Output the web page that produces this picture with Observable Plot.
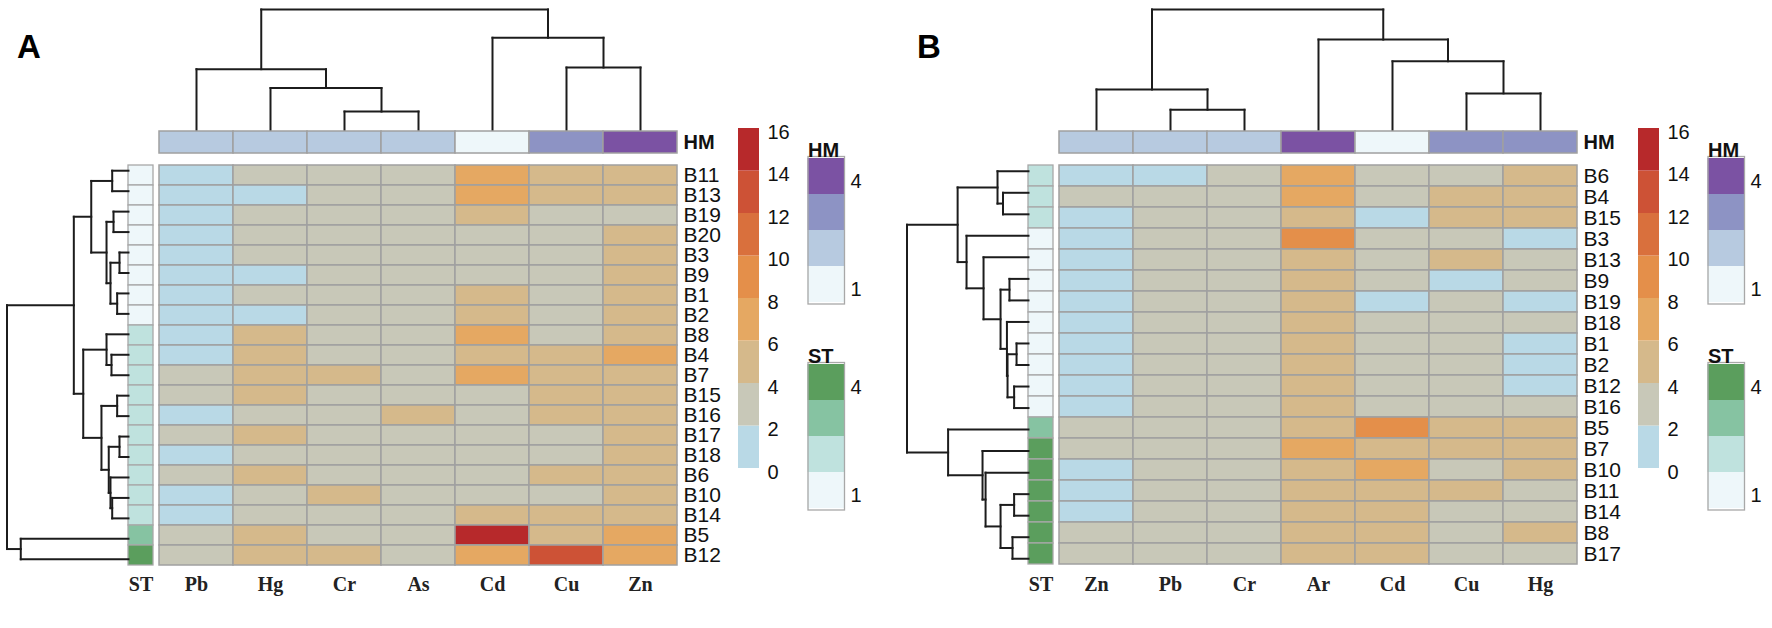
<!DOCTYPE html>
<html><head><meta charset="utf-8">
<script src="https://cdn.jsdelivr.net/npm/d3@7"></script>
<script src="https://cdn.jsdelivr.net/npm/@observablehq/plot@0.6"></script>
<style>
body{margin:0;background:#fff;}
#root{position:relative;width:1772px;height:628px;overflow:hidden;background:#fff;font-family:"Liberation Sans",Arial,sans-serif;}
#root svg{position:absolute;}
.plabel{position:absolute;font-weight:bold;font-size:33px;line-height:33px;color:#000;font-family:"Liberation Sans",Arial,sans-serif;}
</style></head><body><div id="root"></div>
<script>
// ---------------- DATA ----------------
const colsA = ["Pb","Hg","Cr","As","Cd","Cu","Zn"];
const rowsA = ["B11","B13","B19","B20","B3","B9","B1","B2","B8","B4","B7","B15","B16","B17","B18","B6","B10","B14","B5","B12"];
const hmA = [2,2,2,2,1,3,4];
const stA = [1,1,1,1,1,1,1,1,2,2,2,2,2,2,2,2,2,2,3,4];
const valuesA = [
  [1.2,3.4,3.0,2.8,7.2,5.0,5.2],
  [1.4,1.6,3.1,2.9,7.5,4.8,5.1],
  [1.3,3.2,3.0,2.7,4.6,3.5,3.8],
  [1.5,3.3,2.9,2.8,3.6,3.7,4.9],
  [1.4,3.5,3.1,2.9,3.5,3.6,5.0],
  [1.3,1.8,3.0,2.8,3.7,3.8,5.3],
  [1.6,3.2,3.1,2.9,4.8,3.6,5.1],
  [1.5,1.7,3.2,3.0,5.0,3.7,5.4],
  [1.4,4.6,3.3,3.0,7.4,3.9,5.5],
  [1.7,4.8,3.4,3.1,5.2,4.7,7.1],
  [2.6,5.0,4.5,3.2,7.6,4.9,5.6],
  [2.7,4.7,3.3,3.0,3.8,4.6,5.3],
  [1.6,3.6,3.2,4.4,3.5,4.8,5.2],
  [2.5,4.9,3.1,3.0,3.6,3.9,5.1],
  [1.5,3.4,3.0,2.9,3.4,3.8,5.0],
  [2.6,4.6,3.2,3.1,3.7,4.7,5.4],
  [1.5,3.5,4.5,3.0,3.6,3.8,5.2],
  [1.6,3.3,3.1,2.9,4.7,4.9,5.3],
  [2.8,4.8,3.3,3.1,15.2,5.2,7.3],
  [2.9,5.1,4.6,3.2,7.1,12.8,7.4]
];
const colTreeA = [12, [6.13, "Pb", [4.27, "Hg", [1.96, "Cr", "As"]]], [9.22, "Cd", [6.29, "Cu", "Zn"]]];
const rowTreeA = [12,
  [5.4,
    [3.68, [1.61, "B11", "B13"], [2.17, [1.48, "B19", "B20"], [1.78, [0.89, "B3", "B9"], [1.12, "B1", "B2"]]]],
    [4.47, [2.17, "B8", [1.68, "B4", "B7"]], [2.67, [1.12, "B15", "B16"], [1.95, [0.89, "B17", "B18"], [1.78, "B6", [1.61, "B10", "B14"]]]]]
  ],
  [10.64, "B5", "B12"]
];

const colsB = ["Zn","Pb","Cr","Ar","Cd","Cu","Hg"];
const rowsB = ["B6","B4","B15","B3","B13","B9","B19","B18","B1","B2","B12","B16","B5","B7","B10","B11","B14","B8","B17"];
const hmB = [2,2,2,4,1,3,3];
const stB = [2,2,2,1,1,1,1,1,1,1,1,1,3,4,4,4,4,4,4];
const valuesB = [
  [1.5,1.6,3.1,7.2,3.3,3.6,4.8],
  [2.8,3.0,3.2,7.4,3.4,4.7,4.9],
  [1.6,3.1,3.0,5.2,1.7,4.8,5.0],
  [1.4,3.2,3.1,9.1,3.5,3.7,1.6],
  [1.5,3.0,3.2,5.1,3.3,4.6,3.8],
  [1.6,3.1,3.0,5.3,3.6,1.7,3.7],
  [1.5,3.3,3.1,5.0,1.8,3.5,1.5],
  [1.4,3.0,3.2,5.2,3.4,3.6,3.9],
  [1.6,3.1,3.0,5.1,3.5,3.8,1.7],
  [1.5,3.2,3.1,5.4,3.6,3.7,1.6],
  [1.3,3.0,3.2,5.3,3.4,3.6,1.8],
  [1.5,3.1,3.0,5.2,3.5,3.9,3.7],
  [2.9,3.2,3.1,5.3,9.2,4.8,5.1],
  [2.7,3.0,3.2,7.3,5.0,4.9,5.2],
  [1.6,3.1,3.0,5.4,7.1,3.6,4.7],
  [1.5,3.2,3.1,5.2,5.1,4.8,3.8],
  [1.4,3.0,3.2,5.1,5.3,3.7,3.6],
  [2.8,3.1,3.0,5.2,5.4,3.8,4.9],
  [2.6,3.2,3.1,5.3,5.0,3.6,3.9]
];
const colTreeB = [12, [4.14, "Zn", [2.14, "Pb", "Cr"]], [9.04, "Ar", [6.9, "Cd", [3.75, "Cu", "Hg"]]]];
const rowTreeB = [12,
  [7.0,
    [3.06, "B6", [2.52, "B4", "B15"]],
    [6.12, "B3", [4.44, "B13", [2.76, [1.88, "B9", "B19"], [2.13, "B18", [2.07, [1.18, "B1", "B2"], [1.42, "B12", "B16"]]]]]]
  ],
  [7.94, "B5", [4.54, "B7", [4.24, "B10", [2.76, [1.42, "B11", "B14"], [1.58, "B8", "B17"]]]]]
];

const valueThresholds = [2,4,6,8,10,12,14];
const legendTicks = [0,2,4,6,8,10,12,14,16];
const levels = [1,2,3,4];

// ---------------- STYLE ----------------
const valueColors = ["#b9d9e6","#c8c8b8","#d5b98b","#e5a862","#e48f4a","#d9703d","#cd5236","#b7292b"];
const hmColors = ["#eef7fa","#b7cae0","#8d93c4","#7b52a3"];
const stColors = ["#eef7fa","#bfe2de","#86c3a2","#5b9e5d"];
const lineColor = "#1c1c1c";
const gridColor = "#a0a0a0";
const sans = "Liberation Sans, Arial, sans-serif";
const serif = "Liberation Serif, Times New Roman, serif";
const plotStyle = {background: "transparent", overflow: "visible", fontFamily: sans, position: "absolute"};

const root = document.getElementById("root");
function place(svg, left, top) { svg.style.left = left + "px"; svg.style.top = top + "px"; root.appendChild(svg); }

function treeSegments(tree, order) {
  const idx = new Map(order.map((d, i) => [d, i]));
  const segs = [];
  function walk(node) {
    if (typeof node === "string") return {p: idx.get(node), h: 0};
    const [h, l, r] = node;
    const a = walk(l), b = walk(r);
    segs.push({p1: a.p, h1: a.h, p2: a.p, h2: h});
    segs.push({p1: b.p, h1: b.h, p2: b.p, h2: h});
    segs.push({p1: a.p, h1: h, p2: b.p, h2: h});
    return {p: (a.p + b.p) / 2, h};
  }
  walk(tree);
  return segs;
}

const G = {hmLeft: 159, hmW: 518, top: 160, H: 409, stLeft: 128, stW: 25, dendTop: 131, legX: 738, legW: 21, legTop: 128, legH: 340, catX: 807, catW: 37, hmLegTop: 156, stLegTop: 362, catH: 148};

function panel(ox, label, cols, rows, hm, st, values, colTree, rowTree) {
  const div = document.createElement("div");
  div.className = "plabel"; div.textContent = label;
  div.style.left = (ox + 17) + "px"; div.style.top = "30px";
  root.appendChild(div);

  // top dendrogram
  place(Plot.plot({
    width: G.hmW, height: G.dendTop, marginTop: 9, marginBottom: 0, marginLeft: 0, marginRight: 0,
    x: {domain: [-0.5, cols.length - 0.5], axis: null},
    y: {domain: [0, 12], axis: null},
    style: plotStyle,
    marks: [Plot.link(treeSegments(colTree, cols), {x1: "p1", y1: "h1", x2: "p2", y2: "h2", stroke: lineColor, strokeWidth: 2, strokeLinecap: "square"})]
  }), ox + G.hmLeft, 0);

  // HM annotation row
  const hmCells = cols.map((c, j) => ({col: c, hm: hm[j]}));
  place(Plot.plot({
    width: G.hmW + 62, height: 22, margin: 0, marginRight: 62,
    x: {domain: cols, axis: null, padding: 0},
    color: {type: "ordinal", domain: levels, range: hmColors},
    style: plotStyle,
    marks: [
      Plot.cell(hmCells, {x: "col", fill: "hm", stroke: gridColor, strokeWidth: 1.5}),
      Plot.text(["HM"], {text: d => d, frameAnchor: "right", textAnchor: "start", dx: 6, fontSize: 20, fontWeight: "bold", fill: "#111"})
    ]
  }), ox + G.hmLeft, G.dendTop);

  // main heatmap
  const cells = rows.flatMap((r, i) => cols.map((c, j) => ({row: r, col: c, value: values[i][j]})));
  place(Plot.plot({
    width: G.hmW + 62, height: G.H + 44, margin: 0, marginRight: 62, marginBottom: 44,
    x: {domain: cols, axis: null, padding: 0},
    y: {domain: rows, axis: null, padding: 0},
    color: {type: "threshold", domain: valueThresholds, range: valueColors},
    style: plotStyle,
    marks: [
      Plot.cell(cells, {x: "col", y: "row", fill: "value", stroke: gridColor, strokeWidth: 1.5}),
      Plot.text(rows, {y: d => d, text: d => d, frameAnchor: "right", textAnchor: "start", dx: 6, fontSize: 21, fill: "#111"}),
      Plot.text(cols, {x: d => d, text: d => d, frameAnchor: "bottom", dy: 21, fontSize: 20, fontWeight: "bold", fontFamily: serif, fill: "#222"})
    ]
  }), ox + G.hmLeft, G.top);

  // ST column
  const stCells = rows.map((r, i) => ({row: r, st: st[i]}));
  place(Plot.plot({
    width: G.stW, height: G.H + 44, margin: 0, marginBottom: 44,
    x: {domain: ["ST"], axis: null, padding: 0},
    y: {domain: rows, axis: null, padding: 0},
    color: {type: "ordinal", domain: levels, range: stColors},
    style: plotStyle,
    marks: [
      Plot.cell(stCells, {x: () => "ST", y: "row", fill: "st", stroke: "#a8a8a8", strokeWidth: 1.3}),
      Plot.text(["ST"], {x: d => d, text: d => d, frameAnchor: "bottom", dy: 21, fontSize: 20, fontWeight: "bold", fontFamily: serif, fill: "#222"})
    ]
  }), ox + G.stLeft, G.top);

  // left dendrogram
  place(Plot.plot({
    width: G.stLeft, height: G.H, margin: 0, marginLeft: 6.5,
    x: {domain: [12, 0], axis: null},
    y: {domain: [-0.5, rows.length - 0.5], reverse: true, axis: null},
    style: plotStyle,
    marks: [Plot.link(treeSegments(rowTree, rows), {x1: "h1", y1: "p1", x2: "h2", y2: "p2", stroke: lineColor, strokeWidth: 2, strokeLinecap: "square"})]
  }), ox, G.top);

  // value legend
  const bins = legendTicks.slice(0, -1).map((lo, i) => ({lo, hi: legendTicks[i + 1]}));
  place(Plot.plot({
    width: G.legW + 45, height: G.legH + 20, marginTop: 10, marginBottom: 10, marginLeft: 0, marginRight: 45,
    y: {domain: [legendTicks[0], legendTicks[legendTicks.length - 1]], axis: null},
    color: {type: "threshold", domain: valueThresholds, range: valueColors},
    style: plotStyle,
    marks: [
      Plot.rect(bins, {y1: "lo", y2: "hi", fill: d => (d.lo + d.hi) / 2}),
      Plot.text(legendTicks, {y: d => d, text: d => String(d), frameAnchor: "right", textAnchor: "start", dx: 8, dy: 4, fontSize: 20, fill: "#111"})
    ]
  }), ox + G.legX, G.legTop - 10);

  // HM and ST legends
  function catLegend(title, colors, top) {
    place(Plot.plot({
      width: G.catW + 25, height: G.catH + 30, marginTop: 30, marginLeft: 0.5, marginRight: 25, marginBottom: 0.5,
      y: {domain: levels.slice().reverse(), axis: null, padding: 0},
      color: {type: "ordinal", domain: levels, range: colors},
      style: plotStyle,
      marks: [
        Plot.cell(levels, {y: d => d, fill: d => d}),
        Plot.frame({stroke: "#a8a8a8", strokeWidth: 1.3}),
        Plot.text([levels[levels.length - 1], levels[0]], {y: d => d, text: d => String(d), frameAnchor: "right", textAnchor: "start", dx: 6, dy: 5, fontSize: 20, fill: "#111"}),
        Plot.text([title], {text: d => d, frameAnchor: "top-left", textAnchor: "start", dy: -14, fontSize: 20, fontWeight: "bold", fill: "#111"})
      ]
    }), ox + G.catX, top - 30);
  }
  catLegend("HM", hmColors, G.hmLegTop);
  catLegend("ST", stColors, G.stLegTop);
}

panel(0, "A", colsA, rowsA, hmA, stA, valuesA, colTreeA, rowTreeA);
panel(900, "B", colsB, rowsB, hmB, stB, valuesB, colTreeB, rowTreeB);
</script></body></html>
